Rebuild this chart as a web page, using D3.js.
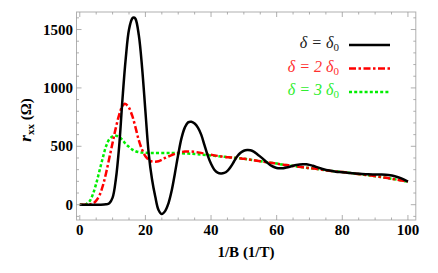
<!DOCTYPE html>
<html><head><meta charset="utf-8">
<script src="https://cdn.jsdelivr.net/npm/d3@7"></script>
</head><body style="margin:0">
<svg id="c" width="438" height="273"></svg>
<script>
// ---- data ----
const blackX = [0,2,4,6,8,9,10,11,12,13,14,15,16,16.5,17,18,19,20,21,22,23,24,25,26,27,28,29,30,31,32,33,34,35,36,37,38,39,40,41,42,43,44,45,46,47,48,49,50,51,52,53,54,55,56,57,58,59,60,61,62,63,64,65,66,67,68,69,70,71,72,73,74,76,78,80,82,84,86,88,90,92,94,96,98,100];
const blackY = [0,0,0,0,3,12,60,220,500,900,1250,1500,1595,1602,1590,1450,1170,800,440,220,70,-45,-80,-55,10,120,270,430,570,660,705,710,695,660,600,510,420,350,300,275,268,272,290,325,370,415,445,462,468,466,455,435,412,388,362,340,325,315,312,313,318,325,333,340,345,347,346,341,333,324,315,306,292,283,278,272,267,263,260,259,258,254,244,225,197];
const redX = [0,2,3,4,5,6,7,8,9,10,11,12,13,13.7,14,15,16,17,18,19,20,21,22,23,24,25,26,28,30,32,34,36,38,40,42,44,46,48,50,52,55,58,60,62,65,68,70,73,76,80,84,88,92,95,100];
const redY = [0,0,2,10,35,80,160,270,400,530,660,770,845,865,862,830,760,660,550,470,415,385,370,368,372,385,400,425,445,455,455,448,438,428,418,410,405,400,393,385,372,360,352,343,332,320,314,303,290,280,266,252,236,222,198];
const greenX = [0,1,2,3,4,5,6,7,8,9,10,11,12,13,14,15,16,17,18,19,20,22,25,28,30,33,36,40,44,46,48,50,52,55,58,60,62,65,68,70,73,76,80,84,88,92,95,100];
const greenY = [0,0,5,30,90,180,290,400,500,560,585,590,580,555,520,495,472,458,450,446,444,442,442,442,441,438,432,422,410,405,400,393,385,372,360,352,343,332,320,314,303,290,280,266,252,236,222,198];
const xTicks = [0,20,40,60,80,100];
const yTicks = [0,500,1000,1500];
const legendLabels = [["δ = δ","0"],["δ = 2 δ","0"],["δ = 3 δ","0"]];

const svg = d3.select("#c");
const L=76.5, R=415.8, T=12, B=220;
const x = d3.scaleLinear().domain([-1,102.4]).range([L,R]);
const y = d3.scaleLinear().domain([-131,1650]).range([B,T]);

function txt(sel, size, weight, fstyle){
  return sel.style("font-family",'"Times New Roman"').style("font-size",size+"px")
    .style("font-weight",weight||"normal").style("font-style",fstyle||"normal");
}

// curves first, clipped to plot area
const line = d3.line().x(d=>x(d[0])).y(d=>y(d[1])).curve(d3.curveCatmullRom.alpha(0.5));
const series = [
  {xs:greenX, ys:greenY, color:"#00ee00", dash:"3,2.2"},
  {xs:redX, ys:redY, color:"#ff0000", dash:"7,2.5,2.5,2.5"},
  {xs:blackX, ys:blackY, color:"#000000", dash:null}
];
series.forEach(s=>{
  svg.append("path").datum(s.xs.map((v,i)=>[v,s.ys[i]]))
    .attr("d",line).attr("fill","none").attr("stroke",s.color).attr("stroke-width",2.5)
    .attr("stroke-dasharray",s.dash);
});

// frame
svg.append("rect").attr("x",L).attr("y",T).attr("width",R-L).attr("height",B-T)
  .attr("fill","none").attr("stroke","#b0b0b0").attr("stroke-width",1);

const tickG = svg.append("g").attr("stroke","#9a9a9a").attr("stroke-width",0.8);
d3.range(0,101,5).forEach(v=>{
  const len = v%20===0?5:2.5;
  tickG.append("line").attr("x1",x(v)).attr("x2",x(v)).attr("y1",B).attr("y2",B-len);
  tickG.append("line").attr("x1",x(v)).attr("x2",x(v)).attr("y1",T).attr("y2",T+len);
});
d3.range(-100,1601,100).forEach(v=>{
  const len = v%500===0?5:2.5;
  tickG.append("line").attr("y1",y(v)).attr("y2",y(v)).attr("x1",L).attr("x2",L+len);
  tickG.append("line").attr("y1",y(v)).attr("y2",y(v)).attr("x1",R).attr("x2",R-len);
});

// tick labels
xTicks.forEach(d=>{
  txt(svg.append("text"),15,"bold").attr("x",x(d)).attr("y",235).attr("text-anchor","middle").text(d);
});
yTicks.forEach(d=>{
  txt(svg.append("text"),15,"bold").attr("x",73).attr("y",y(d)+5).attr("text-anchor","end").text(d);
});

// axis titles
txt(svg.append("text"),15,"bold").attr("x",246).attr("y",257).attr("text-anchor","middle").text("1/B (1/T)");
const yt = txt(svg.append("text"),15,"bold").attr("transform","translate(31,120) rotate(-90)").attr("text-anchor","middle");
yt.append("tspan").style("font-style","italic").style("font-size","17px").text("r");
yt.append("tspan").style("font-size","11px").attr("dy",3).text("xx");
yt.append("tspan").attr("dy",-3).text(" (Ω)");

// legend
const legColors = ["#222222","#ff3030","#30ee30"];
const legDash = [null,"7,2.5,2.5,2.5","3,2.2"];
const legY = [45,68.5,92];
legendLabels.forEach((lab,i)=>{
  const t = txt(svg.append("text"),16,"normal","italic").attr("x",339).attr("y",legY[i]+3)
    .attr("text-anchor","end").attr("fill",legColors[i]);
  t.append("tspan").text(lab[0]);
  t.append("tspan").style("font-size","11px").attr("dy",3).style("font-style","normal").text(lab[1]);
  svg.append("line").attr("x1",349).attr("x2",390).attr("y1",legY[i]).attr("y2",legY[i])
    .attr("stroke",i===0?"#000":(i===1?"#ff0000":"#00ee00")).attr("stroke-width",2.5)
    .attr("stroke-dasharray",legDash[i]);
});
</script>
</body></html>
